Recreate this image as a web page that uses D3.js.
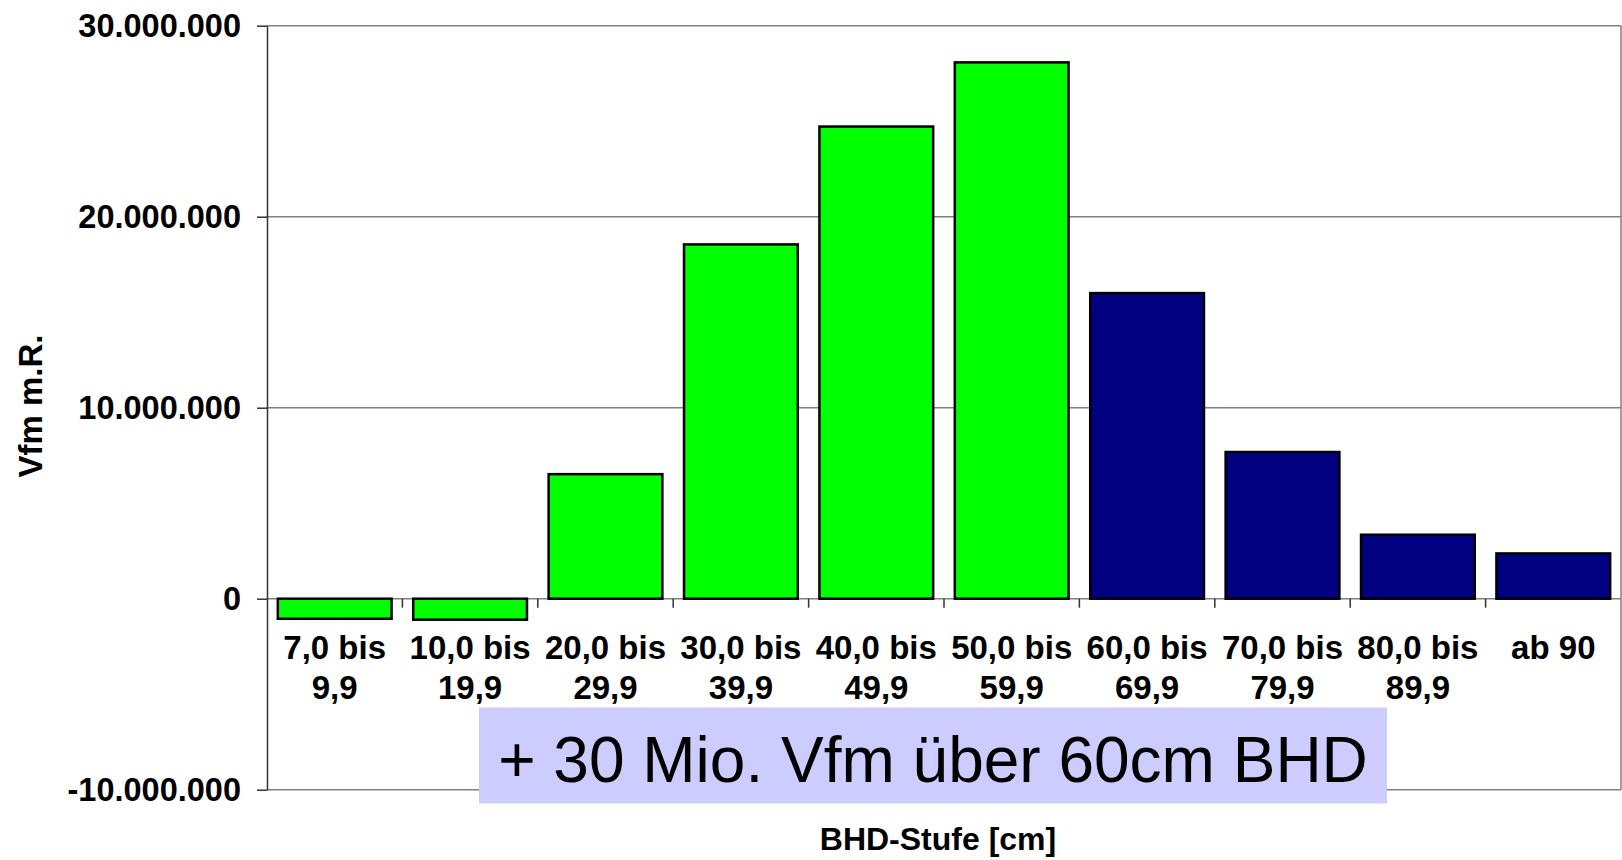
<!DOCTYPE html>
<html>
<head>
<meta charset="utf-8">
<script src="https://cdn.jsdelivr.net/npm/d3@7"></script>
<style>
  html, body { margin: 0; padding: 0; background: #ffffff; }
  svg { display: block; font-family: "Liberation Sans", Arial, sans-serif; }
</style>
</head>
<body>
<svg id="chart" width="1622" height="860"></svg>
<script>
// ---- data ----
const categoriesLine1 = ["7,0 bis", "10,0 bis", "20,0 bis", "30,0 bis", "40,0 bis", "50,0 bis", "60,0 bis", "70,0 bis", "80,0 bis", "ab 90"];
const categoriesLine2 = ["9,9", "19,9", "29,9", "39,9", "49,9", "59,9", "69,9", "79,9", "89,9", ""];
const values = [-1050000, -1100000, 6520000, 18550000, 24720000, 28080000, 16000000, 7680000, 3350000, 2370000];
const groups = ["unter60", "unter60", "unter60", "unter60", "unter60", "unter60", "ueber60", "ueber60", "ueber60", "ueber60"];
const yTicks = [-10000000, 0, 10000000, 20000000, 30000000];
const yAxisTitle = "Vfm m.R.";
const xAxisTitle = "BHD-Stufe [cm]";
const annotation = "+ 30 Mio. Vfm über 60cm BHD";

// ---- layout ----
const svg = d3.select("#chart");
const plotLeft = 267, plotRight = 1621, plotTop = 25.7, plotBottom = 789.7;

const locale = d3.formatLocale({decimal: ",", thousands: ".", grouping: [3], currency: ["", " €"], minus: "-"});
const fmt = locale.format(",d");

const x = d3.scaleBand().domain(d3.range(values.length)).range([plotLeft, plotRight]).paddingInner(0.16).paddingOuter(0.08);
const y = d3.scaleLinear().domain([-10000000, 30000000]).range([plotBottom, plotTop]);
const color = d3.scaleOrdinal().domain(["unter60", "ueber60"]).range(["#00ff00", "#000080"]);

// gridlines
svg.append("g").selectAll("line").data(yTicks).join("line")
  .attr("x1", plotLeft).attr("x2", plotRight)
  .attr("y1", d => y(d)).attr("y2", d => y(d))
  .attr("stroke", "#808080").attr("stroke-width", 1.5);

// right frame
svg.append("line").attr("x1", plotRight).attr("x2", plotRight).attr("y1", y(30000000)).attr("y2", y(-10000000))
  .attr("stroke", "#808080").attr("stroke-width", 1.5);

// y axis
const yAxis = d3.axisLeft(y).tickValues(yTicks).tickFormat(fmt).tickSize(10).tickPadding(16).tickSizeOuter(0);
const gy = svg.append("g").attr("transform", `translate(${plotLeft},0)`).call(yAxis);
gy.select(".domain").attr("stroke", "#333").attr("stroke-width", 1.5);
gy.selectAll(".tick line").attr("stroke", "#333").attr("stroke-width", 1.5);
gy.selectAll(".tick text").attr("font-size", 32.5).attr("font-weight", "bold").attr("fill", "#000")
  .attr("font-family", "Liberation Sans, Arial, sans-serif");

// bars
svg.append("g").selectAll("rect").data(values).join("rect")
  .attr("x", (d, i) => x(i))
  .attr("width", x.bandwidth())
  .attr("y", d => y(Math.max(0, d)))
  .attr("height", d => Math.abs(y(d) - y(0)))
  .attr("fill", (d, i) => color(groups[i]))
  .attr("stroke", "#000").attr("stroke-width", 2.5);

// x tick marks at category boundaries
const step = x.step();
svg.append("g").selectAll("line").data(d3.range(1, values.length)).join("line")
  .attr("x1", i => plotLeft + i * step).attr("x2", i => plotLeft + i * step)
  .attr("y1", y(0)).attr("y2", y(0) + 9)
  .attr("stroke", "#333").attr("stroke-width", 1.5);

// x labels
const xl = svg.append("g").selectAll("text").data(values).join("text")
  .attr("text-anchor", "middle")
  .attr("font-size", 33).attr("font-weight", "bold").attr("fill", "#000");
xl.append("tspan").attr("x", (d, i) => x(i) + x.bandwidth() / 2).attr("y", 659).text((d, i) => categoriesLine1[i]);
xl.append("tspan").attr("x", (d, i) => x(i) + x.bandwidth() / 2).attr("y", 699).text((d, i) => categoriesLine2[i]);

// annotation box
svg.append("rect").attr("x", 479).attr("y", 707.5).attr("width", 908).attr("height", 96).attr("fill", "#ccccff");
svg.append("text").attr("x", 933).attr("y", 782).attr("text-anchor", "middle")
  .attr("font-size", 64).attr("fill", "#000").text(annotation);

// axis titles
svg.append("text").attr("x", 938).attr("y", 850).attr("text-anchor", "middle")
  .attr("font-size", 32).attr("font-weight", "bold").attr("fill", "#000").text(xAxisTitle);
svg.append("text").attr("transform", "translate(42,406) rotate(-90)").attr("text-anchor", "middle")
  .attr("font-size", 33).attr("font-weight", "bold").attr("fill", "#000").text(yAxisTitle);
</script>
</body>
</html>
